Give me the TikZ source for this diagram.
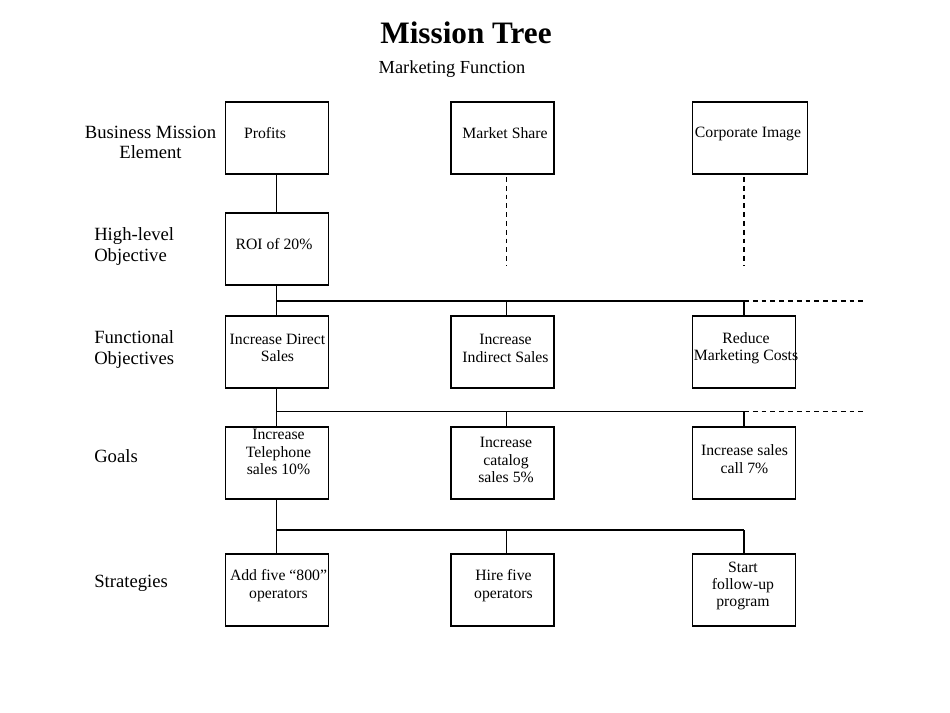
\documentclass[tikz,border=0pt]{standalone}
\usepackage{fontspec}
\setmainfont{Liberation Serif}
\begin{document}
\begin{tikzpicture}[x=0.75pt,y=-0.75pt,
  box/.style={draw, line width=0.95pt, inner sep=0pt, outer sep=0pt, minimum width=77.25pt, minimum height=54pt},
  widebox/.style={box, minimum width=86.25pt},
  txt/.style={inner sep=0pt, align=center, font=\fontsize{11.8}{13.1}\selectfont},
  lbl/.style={inner sep=0pt, align=left, anchor=west, font=\fontsize{14}{15.4}\selectfont},
  conn/.style={line width=0.95pt},
  dconn/.style={line width=0.95pt, dash pattern=on 3.6pt off 3pt}]
\useasboundingbox (0,0) rectangle (950,713);
% title
\node[inner sep=0pt, font=\bfseries\fontsize{23.4}{26}\selectfont] (title) at (466,32.5) {Mission Tree};
\node[inner sep=0pt, font=\fontsize{13.8}{15}\selectfont] (sub) at (452,69.5) {Marketing Function};
% left labels
\node[lbl, anchor=center, align=center] (l1) at (150.5,142.5) {Business Mission\\Element};
\node[lbl] (l2) at (94,246.5) {High-level\\Objective};
\node[lbl] (l3) at (94,349.5) {Functional\\Objectives};
\node[lbl] (l4) at (94,456.5) {Goals};
\node[lbl] (l5) at (94,583.5) {Strategies};
% boxes
\node[box] (prof) at (276.8,138) {};
\node[box] (ms) at (502.5,138) {};
\node[widebox] (ci) at (749.8,138) {};
\node[box] (roi) at (276.8,249) {};
\node[box] (ids) at (276.8,352) {};
\node[box] (iis) at (502.5,352) {};
\node[box] (rmc) at (744,352) {};
\node[box] (its) at (276.8,463) {};
\node[box] (ics) at (502.5,463) {};
\node[box] (isc) at (744,463) {};
\node[box] (afo) at (276.8,590) {};
\node[box] (hfo) at (502.5,590) {};
\node[box] (sfp) at (744,590) {};
% texts
\node[txt] (tprof) at (265,133) {Profits};
\node[txt] (tms) at (505,133) {Market Share};
\node[txt] (tci) at (748,133.5) {Corporate Image};
\node[txt] (troi) at (274,244) {ROI of 20\%};
\node[txt] (tids) at (277.5,348) {Increase Direct\\Sales};
\node[txt] (tiis) at (505.5,348.5) {Increase\\Indirect Sales};
\node[txt] (trmc) at (746,348) {Reduce\\Marketing Costs};
\node[txt] (tits) at (278.5,452) {Increase\\Telephone\\sales 10\%};
\node[txt] (tics) at (506,460) {Increase\\catalog\\sales 5\%};
\node[txt] (tisc) at (744.5,459) {Increase sales\\call 7\%};
\node[txt] (tafo) at (278.5,585.5) {Add five “800”\\operators};
\node[txt] (thfo) at (503.5,585.5) {Hire five\\operators};
\node[txt] (tsfp) at (743,586) {Start\\follow-up\\program};
% column x helpers
\coordinate (c2) at (506.5,0);
\coordinate (c3) at (744,0);
% level 1 -> 2
\draw[conn] (prof.south) -- (roi.north);
\draw[dconn] (ms.south -| c2) ++(0,3) -- (506.5,266);
\draw[dconn] (ci.south -| c3) ++(0,3) -- (744,266);
% level 2 -> 3
\coordinate (h1L) at (276.8,301);
\coordinate (h1R) at (744,301);
\coordinate (h1E) at (863,301);
\draw[conn] (roi.south) -- (ids.north);
\draw[conn] (h1L) -- (h1R);
\draw[conn] (h1L -| c2) -- (iis.north -| c2);
\draw[conn] (h1R) -- (rmc.north);
\draw[dconn] (h1R) -- (h1E);
% level 3 -> 4
\coordinate (h2L) at (276.8,411.5);
\coordinate (h2R) at (744,411.5);
\coordinate (h2E) at (863,411.5);
\draw[conn] (ids.south) -- (its.north);
\draw[conn] (h2L) -- (h2R);
\draw[conn] (h2L -| c2) -- (ics.north -| c2);
\draw[conn] (h2R) -- (isc.north);
\draw[dconn] (h2R) -- (h2E);
% level 4 -> 5
\coordinate (h3L) at (276.8,530);
\coordinate (h3R) at (744,530);
\draw[conn] (its.south) -- (afo.north);
\draw[conn] (h3L) -- (h3R);
\draw[conn] (h3L -| c2) -- (hfo.north -| c2);
\draw[conn] (h3R) -- (sfp.north);
\end{tikzpicture}
\end{document}
